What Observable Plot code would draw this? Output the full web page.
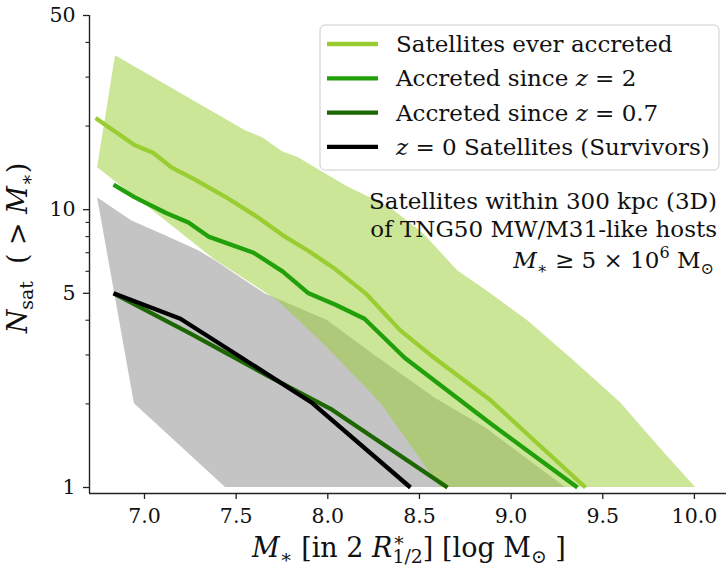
<!DOCTYPE html>
<html><head><meta charset="utf-8">
<script src="https://cdn.jsdelivr.net/npm/d3@7"></script>
<script src="https://cdn.jsdelivr.net/npm/@observablehq/plot@0.6"></script>
<style>
body{margin:0;background:#fff;}
#chart{width:726px;height:571px;position:relative;}
</style>
</head><body><div id="chart"></div>
<script>
// ---------------- data ----------------
const xDomain = [6.7, 10.175];
const yDomain = [0.9515, 50];
const xTicks = [7.0, 7.5, 8.0, 8.5, 9.0, 9.5, 10.0];
const yTicks = [1, 5, 10, 50];
const yMinorTicks = [2, 3, 4, 6, 7, 8, 9, 20, 30, 40];

// Satellites ever accreted (median)
const everX = [6.733, 6.945, 7.049, 7.147, 7.278, 7.458, 7.606, 7.753, 7.895, 8.042, 8.206, 8.397, 8.560, 8.888, 9.144, 9.406];
const everN = [21.4, 17.1, 16.0, 14.2, 12.8, 10.95, 9.5, 8.1, 7.1, 6.1, 5.0, 3.67, 3.0, 2.06, 1.44, 1];
// Accreted since z = 2
const z2X = [6.831, 6.945, 7.115, 7.240, 7.349, 7.595, 7.753, 7.895, 8.042, 8.200, 8.419, 8.631, 8.888, 9.106, 9.362];
const z2N = [12.3, 11.1, 9.75, 9.0, 8.0, 7.0, 6.0, 5.0, 4.55, 4.05, 2.93, 2.29, 1.70, 1.33, 1];
// Accreted since z = 0.7
const z07X = [6.831, 7.251, 7.660, 8.015, 8.653];
const z07N = [5.0, 3.58, 2.55, 1.92, 1];
// z = 0 satellites (survivors)
const z0X = [6.831, 7.196, 7.496, 7.917, 8.451];
const z0N = [5.0, 4.05, 3.03, 2.01, 1];

// scatter band of the survivors (grey)
const grayLoX = [6.744, 6.945, 7.442];
const grayLoN = [11.05, 2.0, 1];
const grayHiX = [6.744, 6.929, 7.115, 7.295, 7.387, 7.655, 7.998, 8.244, 8.588, 8.860, 9.297];
const grayHiN = [11.05, 9.13, 8.06, 7.12, 6.55, 4.99, 3.99, 3.03, 2.09, 1.64, 1];
// scatter band of satellites ever accreted (light green)
const greenLoX = [6.744, 7.060, 7.376, 7.726, 7.987, 8.287, 8.615];
const greenLoN = [14.16, 9.75, 6.66, 4.71, 3.24, 2.02, 1];
const greenHiX = [6.842, 7.551, 7.644, 7.753, 7.840, 8.097, 8.342, 8.522, 8.708, 8.888, 9.089, 9.324, 9.597, 9.799, 10.006];
const greenHiN = [35.8, 19.24, 18.16, 16.17, 15.38, 12.2, 10.17, 8.2, 6.03, 4.99, 3.99, 2.93, 2.02, 1.42, 1];

const seriesNames = ["Satellites ever accreted", "Accreted since z = 2", "Accreted since z = 0.7", "z = 0 Satellites (Survivors)"];
const seriesColors = ["#9acd32", "#22a00b", "#1d6703", "#000000"];

// ---------------- helpers ----------------
function band(loX, loN, hiX, hiN) {
  const n = Math.max(loX.length, hiX.length);
  return d3.range(n).map(i => {
    const a = Math.min(i, loX.length - 1), b = Math.min(i, hiX.length - 1);
    return {x1: loX[a], y1: loN[a], x2: hiX[b], y2: hiN[b]};
  });
}
const lineData = (xs, ns) => xs.map((x, i) => ({x, n: ns[i]}));

const FONT = "'DejaVu Serif', serif";
const LW = 4.3;

const svg = Plot.plot({
  width: 726, height: 571,
  marginLeft: 89, marginRight: 0, marginTop: 15, marginBottom: 78,
  style: {fontFamily: FONT, fontSize: "20px", background: "#fff", color: "#222", overflow: "visible"},
  x: {domain: xDomain},
  y: {type: "log", domain: yDomain},
  marks: [
    Plot.area(band(grayLoX, grayLoN, grayHiX, grayHiN), {x1: "x1", y1: "y1", x2: "x2", y2: "y2", fill: "#c4c4c4"}),
    Plot.area(band(greenLoX, greenLoN, greenHiX, greenHiN), {x1: "x1", y1: "y1", x2: "x2", y2: "y2", fill: "#9acd32", fillOpacity: 0.5}),
    Plot.line(lineData(everX, everN), {x: "x", y: "n", stroke: seriesColors[0], strokeWidth: LW, strokeLinecap: "butt"}),
    Plot.line(lineData(z2X, z2N), {x: "x", y: "n", stroke: seriesColors[1], strokeWidth: LW, strokeLinecap: "butt"}),
    Plot.line(lineData(z07X, z07N), {x: "x", y: "n", stroke: seriesColors[2], strokeWidth: LW, strokeLinecap: "butt"}),
    Plot.line(lineData(z0X, z0N), {x: "x", y: "n", stroke: seriesColors[3], strokeWidth: LW, strokeLinecap: "butt"}),
    Plot.ruleX([xDomain[0]], {stroke: "#222", strokeWidth: 1.4}),
    Plot.ruleY([yDomain[0]], {stroke: "#222", strokeWidth: 1.4}),
    Plot.axisX(xTicks, {tickSize: 6, tickPadding: 8.5, tickFormat: d3.format(".1f"), label: null, strokeWidth: 1.3}),
    Plot.axisY(yTicks, {tickSize: 6, tickPadding: 8, tickFormat: d => String(d), label: null, strokeWidth: 1.3}),
    Plot.axisY(yMinorTicks, {tickSize: 3.5, tickFormat: () => "", label: null, strokeWidth: 1.1})
  ]
});
document.getElementById("chart").appendChild(svg);

const root = d3.select(svg);
root.selectAll("text")
  .attr("font-family", FONT).style("font-family", FONT)
  .attr("font-size", 20.5).style("font-size", "20.5px")
  .style("font-variant", "normal").attr("fill", "#111");

// ---------------- text with math-like formatting ----------------
function mathText(g, x, y, parts, opts) {
  const size = opts.size;
  const t = g.append("text")
    .attr("x", x).attr("y", y)
    .attr("font-family", FONT).attr("font-size", size)
    .attr("text-anchor", opts.anchor || "start")
    .attr("fill", "#111")
    .style("white-space", "pre");
  if (opts.rotate) t.attr("transform", `rotate(${opts.rotate},${x},${y})`);
  let cur = 0;
  const spans = [];
  parts.forEach(p => {
    const shift = p.sub ? 0.24 * size : p.sup ? -0.42 * size : 0;
    const s = t.append("tspan").text(p.t).attr("dy", shift - cur);
    cur = shift;
    if (p.sub || p.sup) s.attr("font-size", size * 0.7);
    if (p.it) s.attr("font-style", "italic");
    spans.push(s);
  });
  spans.forEach((s, i) => {
    if (parts[i].stack) s.attr("dx", -spans[i - 1].node().getComputedTextLength());
  });
  return t;
}

// axis labels
mathText(root, 27, 248, [
  {t: "N", it: true}, {t: "sat", sub: true}, {t: "  ( > "}, {t: "M", it: true}, {t: "∗", sub: true}, {t: ")"}
], {size: 27, anchor: "middle", rotate: -90});

mathText(root, 409, 557, [
  {t: "M", it: true}, {t: "∗", sub: true}, {t: " [in 2 "}, {t: "R", it: true}, {t: "∗", sup: true}, {t: "1/2", sub: true, stack: true},
  {t: "] [log M"}, {t: "⊙", sub: true}, {t: " ]"}
], {size: 27, anchor: "middle"});

// legend
const lg = root.append("g");
lg.append("rect").attr("x", 320).attr("y", 25).attr("width", 399).attr("height", 145).attr("rx", 5)
  .attr("fill", "#fff").attr("fill-opacity", 0.8).attr("stroke", "#cccccc").attr("stroke-width", 1);
const legendParts = [
  [{t: "Satellites ever accreted"}],
  [{t: "Accreted since "}, {t: "z", it: true}, {t: " = 2"}],
  [{t: "Accreted since "}, {t: "z", it: true}, {t: " = 0.7"}],
  [{t: "z", it: true}, {t: " = 0 Satellites (Survivors)"}]
];
seriesNames.forEach((name, i) => {
  const yy = 44 + i * 34.3;
  lg.append("line").attr("x1", 327).attr("x2", 378).attr("y1", yy).attr("y2", yy)
    .attr("stroke", seriesColors[i]).attr("stroke-width", LW);
  mathText(lg, 396, yy + 8, legendParts[i], {size: 23});
});

// annotation
mathText(root, 717, 209, [{t: "Satellites within 300 kpc (3D)"}], {size: 23, anchor: "end"});
mathText(root, 717, 237, [{t: "of TNG50 MW/M31-like hosts"}], {size: 23, anchor: "end"});
mathText(root, 714, 268, [
  {t: "M", it: true}, {t: "∗", sub: true}, {t: " ≥ 5 × 10"}, {t: "6", sup: true}, {t: " M"}, {t: "⊙", sub: true}
], {size: 23, anchor: "end"});
</script></body></html>
